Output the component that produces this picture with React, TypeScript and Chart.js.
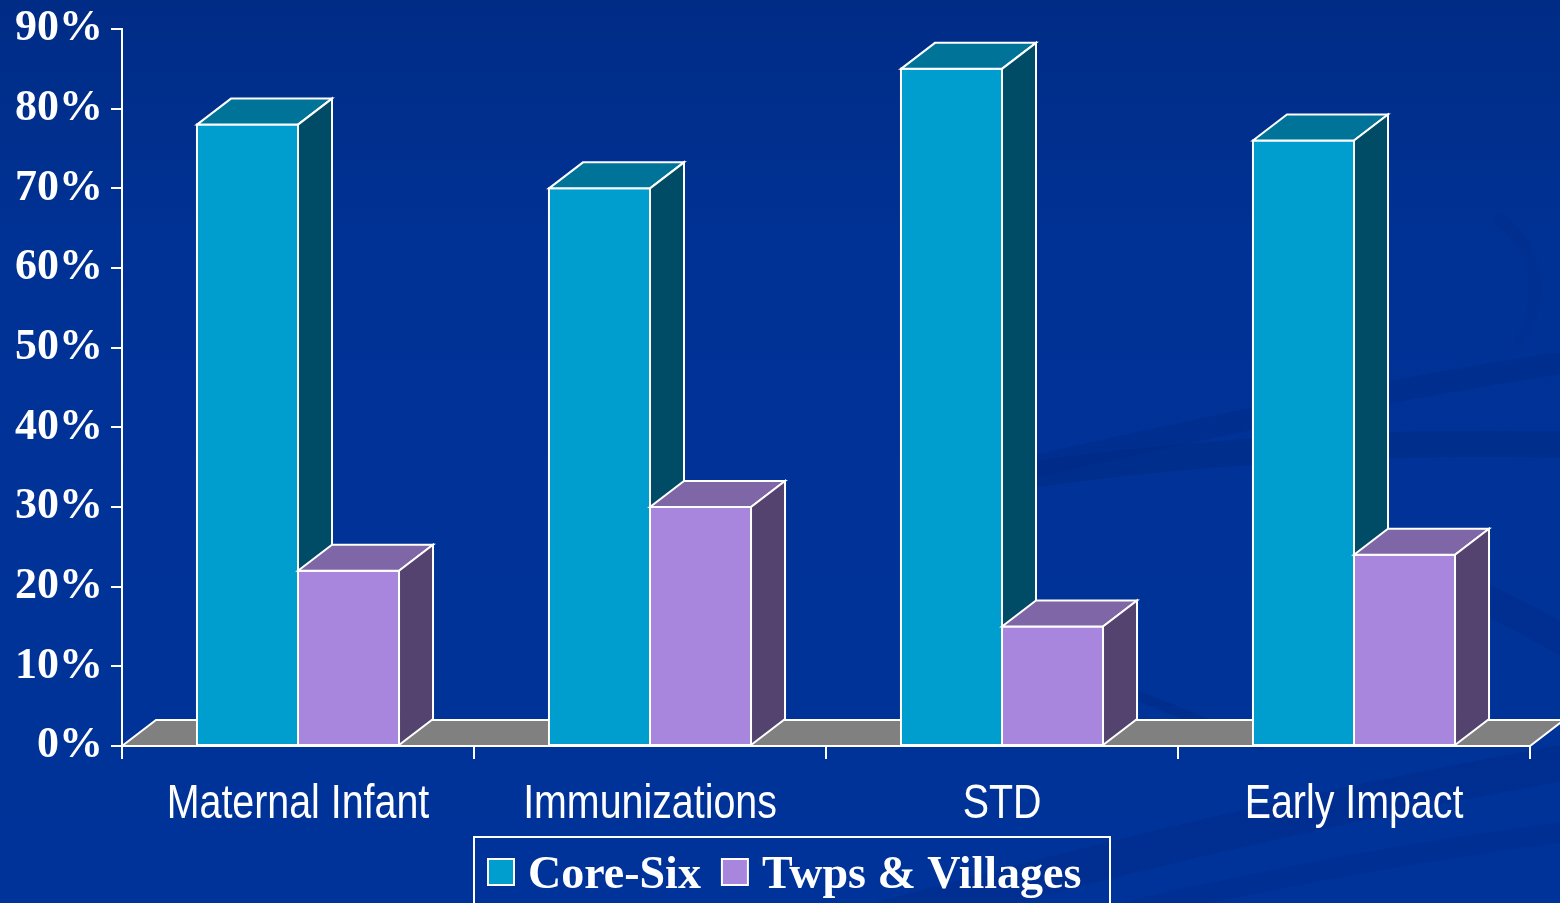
import React, { useEffect, useRef } from "react";
import { Chart, registerables } from "chart.js";

Chart.register(...registerables);

const categories = ["Maternal Infant", "Immunizations", "STD", "Early Impact"];
const coreSix = [78, 70, 85, 76];
const twpsVillages = [22, 30, 15, 24];
const seriesLabels = ["Core-Six", "Twps & Villages"];
const yMin = 0;
const yMax = 90;
const yStep = 10;

const W = 1560;
const H = 903;
const DX = 34;
const DY = 26;

const faceColors = [
  { front: "#009ECE", top: "#007399", side: "#004C66" },
  { front: "#A886DE", top: "#7F66A6", side: "#55436F" },
];

const serif = '"Liberation Serif", "Times New Roman", serif';
const sans = '"Liberation Sans", Arial, sans-serif';
const X_LABEL_SCALE = 0.82;

function poly(ctx: CanvasRenderingContext2D, pts: number[][], fill: string) {
  ctx.beginPath();
  ctx.moveTo(pts[0][0], pts[0][1]);
  for (let i = 1; i < pts.length; i++) ctx.lineTo(pts[i][0], pts[i][1]);
  ctx.closePath();
  ctx.fillStyle = fill;
  ctx.fill();
  ctx.stroke();
}

function band(ctx: CanvasRenderingContext2D, pts: number[], w: number, a: number) {
  ctx.strokeStyle = `rgba(0,30,110,${a})`;
  ctx.lineWidth = w;
  ctx.beginPath();
  ctx.moveTo(pts[0], pts[1]);
  ctx.bezierCurveTo(pts[2], pts[3], pts[4], pts[5], pts[6], pts[7]);
  ctx.stroke();
}

const backgroundPlugin = {
  id: "bg",
  beforeDraw(chart: any) {
    const ctx: CanvasRenderingContext2D = chart.ctx;
    ctx.save();
    const g = ctx.createLinearGradient(0, 0, 0, H);
    g.addColorStop(0, "#002C86");
    g.addColorStop(0.3, "#003296");
    g.addColorStop(1, "#003399");
    ctx.fillStyle = g;
    ctx.fillRect(0, 0, W, H);
    ctx.lineCap = "round";
    band(ctx, [1030, 475, 1200, 450, 1400, 440, 1580, 445], 26, 0.22);
    band(ctx, [1040, 465, 1150, 440, 1350, 395, 1580, 360], 22, 0.16);
    band(ctx, [1000, 640, 1100, 680, 1200, 720, 1260, 745], 10, 0.2);
    band(ctx, [1400, 560, 1470, 590, 1530, 620, 1580, 650], 30, 0.16);
    band(ctx, [880, 920, 1100, 860, 1350, 800, 1580, 760], 36, 0.18);
    band(ctx, [1050, 930, 1250, 880, 1420, 850, 1580, 830], 20, 0.14);
    band(ctx, [1500, 220, 1540, 250, 1545, 300, 1520, 340], 12, 0.09);
    ctx.restore();
  },
};

const floorPlugin = {
  id: "floor",
  beforeDatasetsDraw(chart: any) {
    const { ctx, chartArea } = chart;
    const { left, right, bottom } = chartArea;
    ctx.save();
    ctx.strokeStyle = "#FFFFFF";
    ctx.lineWidth = 2;
    poly(
      ctx,
      [
        [left, bottom],
        [left + DX, bottom - DY],
        [right + DX, bottom - DY],
        [right, bottom],
      ],
      "#808080"
    );
    ctx.restore();
  },
};

const bars3dPlugin = {
  id: "bars3d",
  afterDatasetsDraw(chart: any) {
    const ctx: CanvasRenderingContext2D = chart.ctx;
    ctx.save();
    ctx.strokeStyle = "#FFFFFF";
    ctx.lineWidth = 2;
    ctx.lineJoin = "miter";
    chart.data.datasets.forEach((_ds: any, di: number) => {
      const meta = chart.getDatasetMeta(di);
      const c = faceColors[di];
      meta.data.forEach((el: any) => {
        const { x, y, base, width } = el.getProps(["x", "y", "base", "width"], true);
        const l = x - width / 2;
        const r = x + width / 2;
        poly(ctx, [[l, y], [r, y], [r, base], [l, base]], c.front);
        poly(ctx, [[l, y], [l + DX, y - DY], [r + DX, y - DY], [r, y]], c.top);
        poly(ctx, [[r, y], [r + DX, y - DY], [r + DX, base - DY], [r, base]], c.side);
      });
    });
    ctx.restore();
  },
};

const xLabelPlugin = {
  id: "xLabels",
  afterDraw(chart: any) {
    const ctx: CanvasRenderingContext2D = chart.ctx;
    const xScale = chart.scales.x;
    ctx.save();
    ctx.fillStyle = "#FFFFFF";
    ctx.font = `normal 48px ${sans}`;
    ctx.textAlign = "center";
    ctx.textBaseline = "alphabetic";
    (chart.data.labels as string[]).forEach((lab, i) => {
      const cx = xScale.getPixelForValue(i);
      ctx.save();
      ctx.translate(cx, 818);
      ctx.scale(X_LABEL_SCALE, 1);
      ctx.fillText(lab, 0, 0);
      ctx.restore();
    });
    ctx.restore();
  },
};

const legendPlugin = {
  id: "legendBox",
  afterDraw(chart: any) {
    const ctx: CanvasRenderingContext2D = chart.ctx;
    ctx.save();
    const boxLeft = 474;
    const boxTop = 837;
    const boxWidth = 636;
    ctx.strokeStyle = "#FFFFFF";
    ctx.lineWidth = 2;
    ctx.strokeRect(boxLeft, boxTop, boxWidth, 90);
    ctx.font = `bold 46px ${serif}`;
    ctx.textBaseline = "alphabetic";
    ctx.textAlign = "left";
    let x = 488;
    chart.data.datasets.forEach((ds: any) => {
      ctx.fillStyle = ds.backgroundColor;
      ctx.fillRect(x, 859, 26, 26);
      ctx.strokeRect(x, 859, 26, 26);
      x += 26 + 14;
      ctx.fillStyle = "#FFFFFF";
      ctx.fillText(ds.label, x, 888);
      x += ctx.measureText(ds.label).width + 21;
    });
    ctx.restore();
  },
};

export default function App() {
  const ref = useRef<HTMLCanvasElement | null>(null);
  useEffect(() => {
    document.body.style.margin = "0";
    document.body.style.overflow = "hidden";
    const canvas = ref.current;
    if (!canvas) return;
    const chart = new Chart(canvas, {
      type: "bar",
      data: {
        labels: categories,
        datasets: [
          {
            label: seriesLabels[0],
            data: coreSix,
            backgroundColor: faceColors[0].front,
            borderWidth: 0,
            categoryPercentage: 0.574,
            barPercentage: 1,
          },
          {
            label: seriesLabels[1],
            data: twpsVillages,
            backgroundColor: faceColors[1].front,
            borderWidth: 0,
            categoryPercentage: 0.574,
            barPercentage: 1,
          },
        ],
      },
      options: {
        responsive: false,
        animation: false,
        layout: { padding: { left: 0, right: 30, top: 29, bottom: 0 } },
        plugins: {
          legend: { display: false },
          tooltip: { enabled: false },
        },
        scales: {
          x: {
            offset: true,
            grid: {
              offset: true,
              drawOnChartArea: false,
              drawTicks: true,
              tickLength: 13,
              color: "#FFFFFF",
              lineWidth: 2,
            },
            border: { display: true, color: "#FFFFFF", width: 2 },
            ticks: { display: false },
            afterFit(scale: any) {
              scale.height = 157;
              scale.paddingLeft = 0;
              scale.paddingRight = 0;
            },
          },
          y: {
            min: yMin,
            max: yMax,
            grid: {
              drawOnChartArea: false,
              drawTicks: true,
              tickLength: 11,
              color: "#FFFFFF",
              lineWidth: 2,
            },
            border: { display: true, color: "#FFFFFF", width: 2 },
            ticks: {
              stepSize: yStep,
              color: "#FFFFFF",
              font: { family: serif, size: 44, weight: "bold" },
              padding: 8,
              callback: (v: any) => `${v}%`,
            },
            afterFit(scale: any) {
              scale.width = 122;
              scale.paddingTop = 0;
              scale.paddingBottom = 0;
            },
          },
        },
      },
      plugins: [backgroundPlugin, floorPlugin, bars3dPlugin, xLabelPlugin, legendPlugin],
    });
    return () => chart.destroy();
  }, []);
  return (
    <div style={{ position: "fixed", left: 0, top: 0, width: W, height: H }}>
      <canvas ref={ref} width={W} height={H} style={{ display: "block", width: W, height: H }} />
    </div>
  );
}
